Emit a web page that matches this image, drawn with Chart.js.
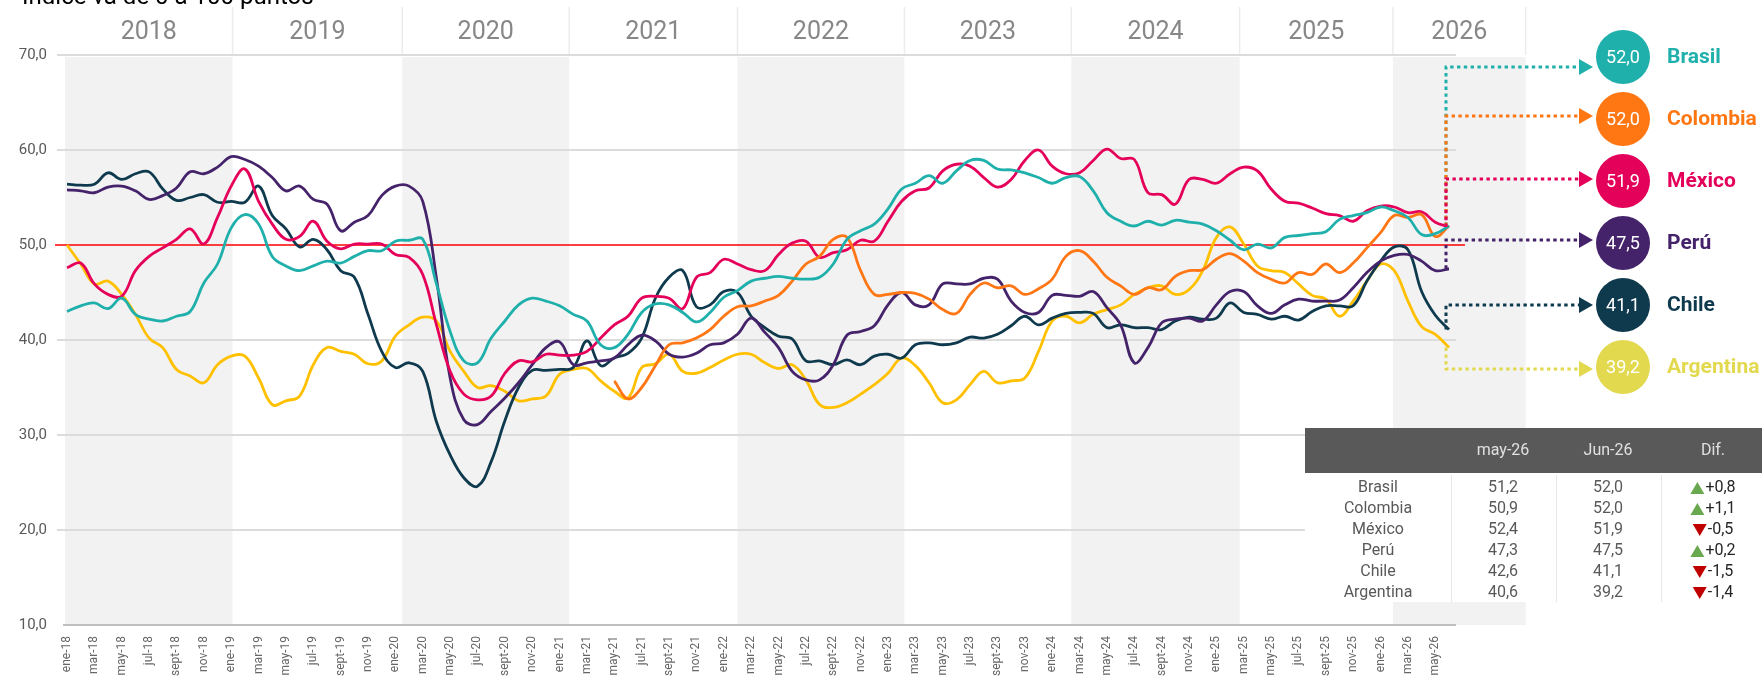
<!DOCTYPE html>
<html>
<head>
<meta charset="utf-8">
<script src="https://cdn.jsdelivr.net/npm/chart.js@4.4.1/dist/chart.umd.min.js"></script>
<style>
    body { margin: 0; background: #fff; }
    #wrap { width: 1762px; height: 677px; position: relative; }
</style>
</head>
<body>
<div id="wrap"><canvas id="chartPmi"></canvas></div>
<script>
// ---- data ----
var monthNames = ['ene', 'feb', 'mar', 'abr', 'may', 'jun', 'jul', 'ago', 'sept', 'oct', 'nov', 'dic'];
var years = [2018, 2019, 2020, 2021, 2022, 2023, 2024, 2025, 2026];
var countries = ['Brasil', 'Colombia', 'México', 'Perú', 'Chile', 'Argentina'];

var brasil = [43.0, 43.6, 43.9, 43.3, 44.4, 42.7, 42.2, 42.0, 42.5, 43.0, 46.0, 48.0, 51.8, 53.2, 52.2, 48.8, 47.8, 47.3, 47.8, 48.3, 48.1, 48.8, 49.4, 49.4, 50.4, 50.5, 50.6, 45.9, 40.9, 37.8, 37.6, 40.2, 42.0, 43.7,
    44.4, 44.1, 43.6, 42.7, 42.0, 39.5, 39.2, 40.6, 42.9, 43.8, 43.7, 42.9, 41.9, 42.9, 44.5, 45.2, 46.2, 46.5, 46.7, 46.5, 46.4, 46.6, 48.0, 50.6, 51.5, 52.2, 53.8, 55.9, 56.5, 57.3, 56.5, 57.8, 58.9, 58.9,
    58.0, 57.9, 57.6, 57.1, 56.5, 57.1, 57.2, 55.7, 53.4, 52.5, 52.0, 52.5, 52.1, 52.6, 52.4, 52.2, 51.5, 50.5, 49.5, 50.1, 49.7, 50.8, 51.0, 51.2, 51.4, 52.7, 53.1, 53.4, 54.0, 53.6, 52.9, 51.1,
    51.2, 52.0];
var colombia = [null, null, null, null, null, null, null, null, null, null, null, null, null, null, null, null, null, null, null, null,
    null, null, null, null, null, null, null, null, null, null, null, null, null, null, null, null, null, null, null, null,
    35.7, 33.8, 35.0, 37.3, 39.5, 39.7, 40.2, 41.1, 42.5, 43.5, 43.6, 44.1, 44.7, 46.2, 48.0, 48.8, 50.6, 50.8, 47.3, 44.8, 44.8, 45.0, 44.9, 44.3, 43.2, 42.8, 44.8, 46.0,
    45.5, 45.7, 44.8, 45.4, 46.4, 48.8, 49.4, 48.3, 46.6, 45.7, 44.8, 45.5, 45.3, 46.7, 47.3, 47.4, 48.5, 49.1, 48.3, 47.1, 46.4, 46.0, 47.1, 46.9, 48.0, 47.1, 48.1, 49.7, 51.3, 53.1, 52.9, 53.2,
    50.9, 52.0];
var mexico = [47.6, 48.1, 45.9, 44.8, 44.6, 47.3, 48.8, 49.7, 50.6, 51.7, 50.1, 52.9, 56.2, 58.0, 54.6, 52.2, 50.6, 50.9, 52.5, 50.4, 49.6, 50.1, 50.1, 50.1, 49.0, 48.7, 46.9, 41.6, 36.7, 34.3, 33.7, 34.1, 36.5, 37.8,
    37.7, 38.5, 38.4, 38.4, 38.8, 40.2, 41.6, 42.5, 44.4, 44.6, 44.4, 43.3, 46.6, 47.1, 48.5, 48.0, 47.4, 47.3, 49.0, 50.2, 50.4, 48.7, 49.2, 49.5, 50.5, 50.4, 52.5, 54.6, 55.7, 56.0, 57.8, 58.5, 58.3, 57.1,
    56.1, 56.9, 58.9, 60.0, 58.3, 57.5, 57.6, 58.9, 60.1, 59.1, 59.0, 55.5, 55.3, 54.3, 56.9, 56.9, 56.5, 57.5, 58.2, 57.8, 55.9, 54.6, 54.4, 53.9, 53.3, 53.1, 52.5, 53.6, 54.1, 54.0, 53.4, 53.5,
    52.4, 51.9];
var peru = [55.8, 55.7, 55.5, 56.1, 56.2, 55.7, 54.8, 55.2, 56.0, 57.7, 57.5, 58.2, 59.3, 59.0, 58.3, 57.1, 55.7, 56.2, 54.8, 54.3, 51.5, 52.4, 53.1, 55.2, 56.2, 56.2, 54.6, 46.5, 36.0, 31.6, 31.1, 32.5, 33.9, 35.5,
    37.4, 39.2, 39.8, 37.4, 37.6, 37.8, 38.1, 39.5, 40.5, 39.9, 38.5, 38.2, 38.6, 39.5, 39.7, 40.6, 42.3, 40.8, 39.2, 36.7, 35.8, 35.8, 37.4, 40.5, 40.9, 41.5, 43.7, 45.0, 43.7, 43.7, 45.9, 45.9, 45.9, 46.5,
    46.4, 44.1, 42.9, 42.9, 44.7, 44.7, 44.6, 45.1, 43.4, 41.6, 37.6, 39.2, 41.8, 42.2, 42.3, 42.0, 43.7, 45.1, 45.1, 43.6, 42.8, 43.7, 44.3, 44.1, 44.1, 44.2, 45.5, 47.1, 48.3, 48.9, 49.0, 48.3,
    47.3, 47.5];
var chile = [56.4, 56.3, 56.4, 57.6, 56.9, 57.5, 57.7, 55.9, 54.7, 55.0, 55.3, 54.5, 54.6, 54.5, 56.2, 53.1, 51.7, 49.8, 50.6, 49.5, 47.3, 46.6, 42.7, 38.8, 37.1, 37.6, 36.7, 31.4, 27.9, 25.5, 24.6, 27.2, 31.5, 35.0,
    36.8, 36.8, 36.9, 37.1, 39.9, 37.3, 38.1, 38.6, 40.2, 44.4, 46.6, 47.3, 43.5, 43.7, 45.1, 45.0, 42.5, 41.3, 40.4, 40.1, 37.8, 37.8, 37.4, 37.9, 37.4, 38.3, 38.5, 38.1, 39.5, 39.7, 39.5, 39.7, 40.3, 40.2,
    40.6, 41.5, 42.5, 41.6, 42.3, 42.8, 42.9, 42.8, 41.3, 41.6, 41.3, 41.3, 41.1, 42.0, 42.4, 42.2, 42.3, 43.9, 42.9, 42.7, 42.2, 42.5, 42.1, 43.0, 43.6, 43.6, 43.6, 46.2, 48.3, 49.8, 49.5, 45.1,
    42.6, 41.1];
var argentina = [50.0, 48.0, 45.9, 46.2, 44.8, 42.7, 40.2, 39.2, 36.9, 36.2, 35.5, 37.4, 38.3, 38.3, 36.0, 33.2, 33.6, 34.1, 37.4, 39.2, 38.8, 38.5, 37.5, 37.8, 40.4, 41.6, 42.4, 42.0, 38.8, 36.7, 35.0, 35.2, 34.6, 33.6,
    33.8, 34.1, 36.4, 36.9, 37.0, 35.7, 34.6, 33.9, 37.1, 37.5, 38.5, 36.7, 36.5, 37.1, 37.9, 38.5, 38.5, 37.6, 37.0, 37.4, 35.8, 33.2, 32.9, 33.4, 34.3, 35.3, 36.5, 38.1, 37.3, 35.5, 33.4, 33.7, 35.3, 36.7,
    35.5, 35.7, 36.0, 38.8, 42.0, 42.5, 41.8, 42.7, 43.2, 43.7, 44.8, 45.5, 45.7, 44.8, 45.3, 47.3, 50.8, 51.9, 50.1, 47.8, 47.3, 47.1, 45.9, 44.7, 44.3, 42.5, 44.1, 46.2, 48.0, 47.3, 44.1, 41.4,
    40.6, 39.2];

var yTicks = [10, 20, 30, 40, 50, 60, 70];
var umbral = 50;

// ene-18 ... jun-26
var months = [];
years.forEach(function (yr) {
    monthNames.forEach(function (m) {
        if (months.length < brasil.length) months.push(m + '-' + String(yr).slice(2));
    });
});

var series = [brasil, colombia, mexico, peru, chile, argentina];
var lineColors = ['#1fb0ab', '#ff7614', '#e5005a', '#45236b', '#0f3a4e', '#ffc000'];
var bubbleColors = ['#20b0ac', '#ff7713', '#e40159', '#45236b', '#0f3a4e', '#e2d94f'];

// ---- layout bits (decoration only) ----
var bandEdges = [-0.15, 12.1, 24.5, 36.7, 49.0, 61.2, 73.4, 85.7, 96.9, 106.6]; // in months, the year bands drift like the excel original
var bubbleX = 1623, bubbleR = 27;
var arrowShift = [10, -3, -2, -3, 0, 2];

function fmt(v) { return v.toFixed(1).replace('.', ','); }

var decor = {
    id: 'decor',
    beforeDraw: function (chart) {
        var ctx = chart.ctx, x = chart.scales.x, y = chart.scales.y, a = chart.chartArea;
        ctx.save();
        ctx.fillStyle = '#000';
        ctx.font = '24px Roboto';
        ctx.textBaseline = 'alphabetic';
        ctx.fillText('Índice va de 0 a 100 puntos', 22, 4);

        for (var k = 0; k < years.length; k++) {
            var x0 = x.getPixelForValue(bandEdges[k]);
            var x1 = x.getPixelForValue(bandEdges[k + 1]);
            if (k % 2 === 0) {
                ctx.fillStyle = '#f2f2f2';
                ctx.fillRect(x0, a.top + 2, x1 - x0, a.bottom - a.top - 2);
            }
            ctx.fillStyle = '#878787';
            ctx.font = '25px Roboto';
            ctx.textAlign = 'center';
            ctx.textBaseline = 'middle';
            ctx.fillText(String(years[k]), (x0 + x1) / 2, 33);
            ctx.strokeStyle = '#ececec';
            ctx.lineWidth = 1.5;
            ctx.beginPath();
            ctx.moveTo(x1, 7);
            ctx.lineTo(x1, a.top);
            ctx.stroke();
        }

        var gx1 = x.getPixelForValue(brasil.length - 1) + 7;
        yTicks.forEach(function (v) {
            if (v === umbral) return;
            var py = y.getPixelForValue(v);
            ctx.strokeStyle = v === 10 ? '#bfbfbf' : '#dcdcdc';
            ctx.lineWidth = 2;
            ctx.beginPath();
            ctx.moveTo(v === 10 ? a.left - 4 : a.left - 10, py);
            ctx.lineTo(gx1, py);
            ctx.stroke();
        });
        ctx.restore();
    },
    beforeDatasetsDraw: function (chart) {
        var ctx = chart.ctx, x = chart.scales.x, y = chart.scales.y, a = chart.chartArea;
        var py = y.getPixelForValue(umbral);
        ctx.save();
        ctx.strokeStyle = '#ff0000';
        ctx.lineWidth = 1.6;
        ctx.beginPath();
        ctx.moveTo(a.left - 12, py);
        ctx.lineTo(x.getPixelForValue(brasil.length - 1) + 16, py);
        ctx.stroke();
        ctx.restore();
    },
    afterDraw: function (chart) {
        var ctx = chart.ctx, x = chart.scales.x, y = chart.scales.y, a = chart.chartArea;
        var last = brasil.length - 1;
        var lx = x.getPixelForValue(last) - 3;
        ctx.save();

        // dotted connectors + bubbles
        series.forEach(function (s, i) {
            var by = a.top + 2 + i * 62;
            var ay = by + arrowShift[i];
            var py = y.getPixelForValue(s[last]);
            var tip = bubbleX - bubbleR - 3;
            ctx.strokeStyle = bubbleColors[i];
            ctx.fillStyle = bubbleColors[i];
            ctx.lineWidth = 3;
            ctx.setLineDash([3.4, 3.4]);
            ctx.beginPath();
            ctx.moveTo(lx, py);
            ctx.lineTo(lx, ay);
            ctx.lineTo(tip - 12, ay);
            ctx.stroke();
            ctx.setLineDash([]);
            ctx.beginPath();
            ctx.moveTo(tip - 14, ay - 8);
            ctx.lineTo(tip, ay);
            ctx.lineTo(tip - 14, ay + 8);
            ctx.closePath();
            ctx.fill();

            ctx.beginPath();
            ctx.arc(bubbleX, by, bubbleR, 0, Math.PI * 2);
            ctx.fill();
            ctx.fillStyle = '#fff';
            ctx.font = '18px Roboto';
            ctx.textAlign = 'center';
            ctx.textBaseline = 'middle';
            ctx.fillText(fmt(s[last]), bubbleX, by + 1);
            ctx.fillStyle = bubbleColors[i];
            ctx.font = 'bold 21px Roboto';
            ctx.textAlign = 'left';
            ctx.fillText(countries[i], 1667, by + 1);
        });

        // summary table
        var tx = 1305, tr = 1762, hTop = 428, hBot = 473, bBot = 602;
        var colX = [1378, 1503, 1608, 1713];
        ctx.fillStyle = '#ffffff';
        ctx.fillRect(tx, hBot, tr - tx, bBot - hBot);
        ctx.fillStyle = '#595959';
        ctx.fillRect(tx, hTop, tr - tx, hBot - hTop);
        ctx.strokeStyle = '#e6e6e6';
        ctx.lineWidth = 1;
        [1451, 1556, 1661].forEach(function (sx) {
            ctx.beginPath();
            ctx.moveTo(sx + 0.5, hBot + 2);
            ctx.lineTo(sx + 0.5, bBot);
            ctx.stroke();
        });
        ctx.font = '16px Roboto';
        ctx.textAlign = 'center';
        ctx.textBaseline = 'middle';
        ctx.fillStyle = '#e0e0e0';
        ctx.fillText(months[last - 1], colX[1], 451);
        ctx.fillText('Jun-26', colX[2], 451);
        ctx.fillText('Dif.', colX[3], 451);

        series.forEach(function (s, i) {
            var ry = 488 + i * 21;
            var prev = s[last - 1], cur = s[last];
            var dif = Math.round((cur - prev) * 10) / 10;
            ctx.font = '16px Roboto';
            ctx.textAlign = 'center';
            ctx.fillStyle = '#595959';
            ctx.fillText(countries[i], colX[0], ry);
            ctx.fillText(fmt(prev), colX[1], ry);
            ctx.fillText(fmt(cur), colX[2], ry);

            var txt = (dif > 0 ? '+' : '') + fmt(dif);
            var tw = ctx.measureText(txt).width;
            var gx = colX[3] - (tw + 15) / 2;
            ctx.beginPath();
            if (dif > 0) {
                ctx.fillStyle = '#6aa84f';
                ctx.moveTo(gx, ry + 6);
                ctx.lineTo(gx + 14, ry + 6);
                ctx.lineTo(gx + 7, ry - 6);
            } else {
                ctx.fillStyle = '#c00000';
                ctx.moveTo(gx, ry - 6);
                ctx.lineTo(gx + 14, ry - 6);
                ctx.lineTo(gx + 7, ry + 6);
            }
            ctx.closePath();
            ctx.fill();
            ctx.fillStyle = '#262626';
            ctx.textAlign = 'left';
            ctx.fillText(txt, gx + 15, ry);
        });
        ctx.restore();
    }
};

Chart.defaults.font.family = 'Roboto';

var ctx = document.getElementById('chartPmi').getContext('2d');
var chartPmi = new Chart(ctx, {
    type: 'line',
    data: {
        labels: months,
        datasets: series.map(function (s, i) {
            return {
                label: countries[i],
                data: s,
                borderColor: lineColors[i],
                backgroundColor: lineColors[i],
                borderWidth: 2.8,
                pointRadius: 0,
                tension: 0.4,
                fill: false
            };
        })
    },
    options: {
        responsive: true,
        maintainAspectRatio: false,
        animation: false,
        devicePixelRatio: 1,
        layout: { padding: { top: 55, right: 313, left: 0, bottom: 0 } },
        plugins: {
            legend: { display: false },
            tooltip: { enabled: false }
        },
        scales: {
            x: {
                grid: { display: false, drawTicks: false },
                border: { display: false },
                ticks: {
                    autoSkip: false,
                    maxRotation: 90,
                    minRotation: 90,
                    padding: 11,
                    color: '#666666',
                    font: { size: 12 },
                    callback: function (v, i) { return i % 2 === 0 ? months[i] : ''; }
                },
                afterFit: function (s) { s.height = 52; }
            },
            y: {
                min: 10,
                max: 70,
                grid: { display: false, drawTicks: false },
                border: { display: false },
                ticks: {
                    stepSize: 10,
                    padding: 20,
                    color: '#595959',
                    font: { size: 15 },
                    callback: function (v) { return fmt(v); }
                },
                afterFit: function (s) { s.width = 67; }
            }
        }
    },
    plugins: [decor]
});
</script>
</body>
</html>
